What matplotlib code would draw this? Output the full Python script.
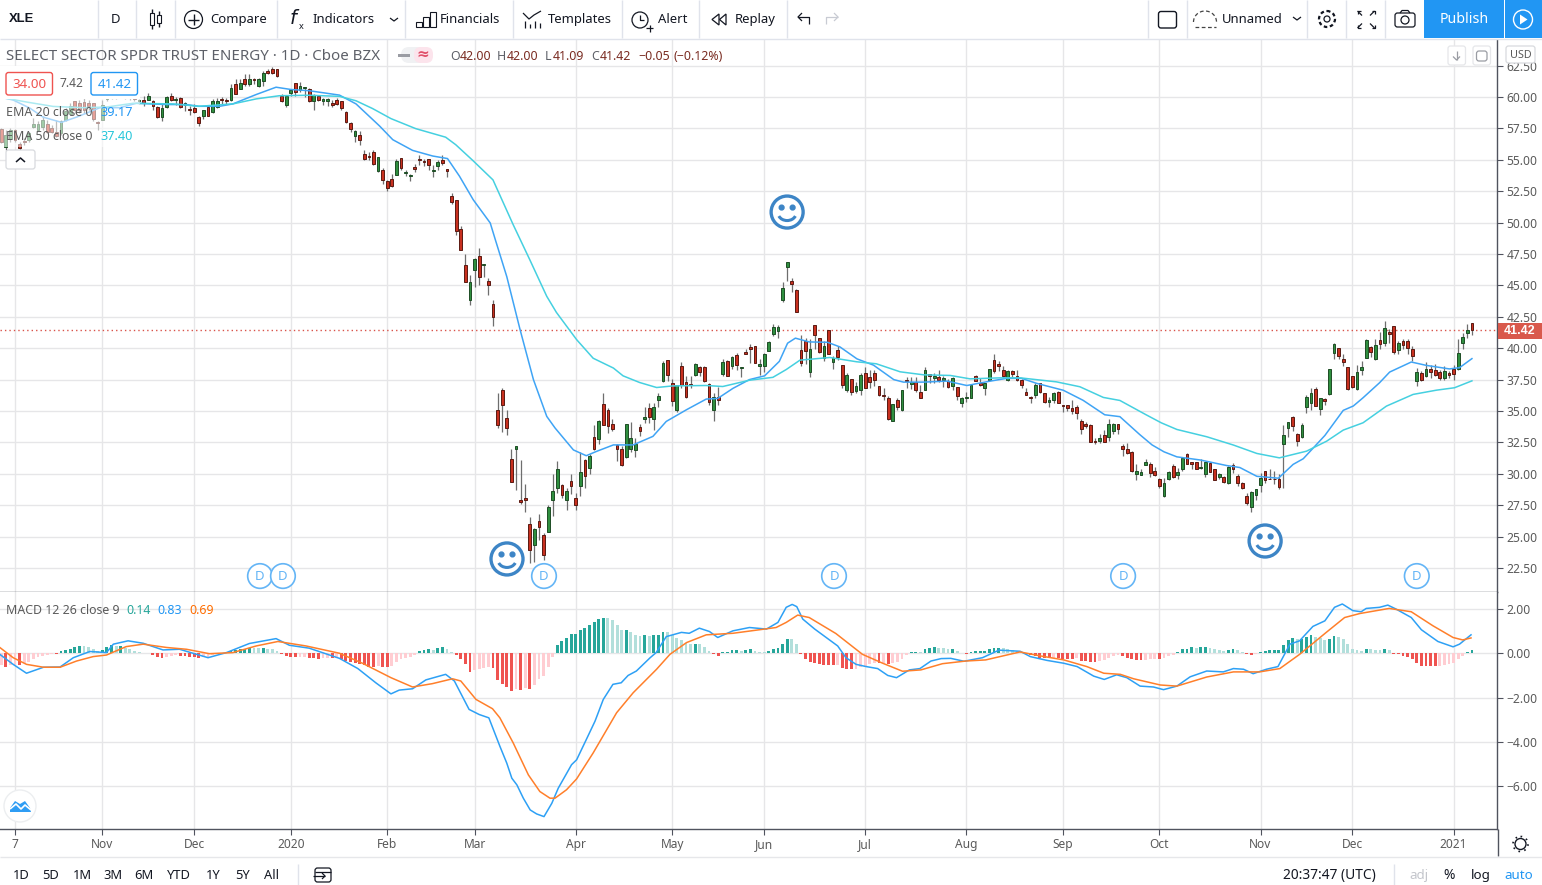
import numpy as np
import matplotlib
matplotlib.use("Agg")
import matplotlib.pyplot as plt
from matplotlib.patches import Rectangle, FancyBboxPatch, Circle, Arc, Polygon

plt.rcParams['font.family'] = ['Noto Sans', 'DejaVu Sans']

# ---------- data ----------
first_bar = -3
opens = [57.45,56.05,56.65,57.35,56.25,56.45,56.55,57.65,57.4,57.6,
 57.85,57.55,57.2,57.15,58.15,58.65,59.65,59.5,59.6,59.5,
 59.55,58.0,58.2,59.85,60.25,60.3,60.05,60.2,60.0,60.3,
 59.65,59.8,59.8,59.7,59.2,58.4,59.2,60.1,59.75,59.9,
 59.35,59.05,59.1,58.4,58.45,59.2,58.8,59.2,59.85,59.72,
 59.75,61,60.65,61.4,61,61.4,60.9,61.25,62.1,62.25,
 62.2,60.1,59.35,60.35,61.1,60.55,60.7,60.65,59.65,60.1,
 59.7,59.65,59.5,59.75,59.65,58.8,57.95,56.87,56.98,55.45,
 55.3,55.6,54.1,54.2,53.3,53.45,53.8,55.15,53.95,53.7,
 54.4,55.05,54.9,55.05,54.1,54.5,55,54.25,52.14,51.8,
 49.5,46.6,43.8,46.2,47.35,46.6,45.35,43.5,35.1,36.7,
 34.45,31.18,31.94,27.91,28.07,26.0,24.3,26.24,25.13,25.34,
 27.9,28.9,29.1,27.9,29.45,28.05,29.0,31.1,30.45,32.9,
 32.75,35.55,35.1,33.95,32.3,32.0,31.3,32.0,31.9,33.75,
 34.4,35.25,34.35,35.85,37.35,39.05,37.25,35.1,38.6,37.3,
 37.15,37.9,38.5,38.5,37.15,35.05,36.1,37.95,38.98,38.55,
 39.45,38.4,39.7,40.1,40.15,38.55,38.6,39.8,41.1,41.4,
 43.8,46.45,45.35,44.65,39.85,40.55,38.1,41.85,40.85,39.25,
 41.45,38.9,39.85,38.7,36.7,37.55,36.6,36.65,38.0,37.7,
 38.0,37.0,36.3,36.05,34.2,35.9,35.05,37.5,37.15,37.3,
 36.55,36.65,37.95,37.6,37.7,37.5,37.35,36.98,36.95,35.65,
 36.05,36.05,37.8,37.25,36.8,37.45,39.1,38.75,38.3,37.5,
 38.2,37.8,37.5,36.55,36.15,36.25,37.25,36.45,35.7,35.9,
 36.55,35.5,35.45,35.2,35.35,34.2,33.95,33.9,32.65,32.65,
 33.1,32.9,33.4,33.95,32.25,32.0,31.75,30.0,29.9,30.7,
 30.8,30.25,29.6,28.2,29.55,30.65,29.9,30.35,31.6,30.9,
 30.9,30.45,29.95,30.85,30.35,29.75,29.75,29.3,30.7,29.85,
 29.3,28.25,27.35,28.3,29.1,30.25,29.6,29.6,29.6,32.4,
 33.65,34.55,33.15,32.9,35.35,35.65,36.75,35.15,35.95,36.35,
 39.65,40.0,39.15,38.5,37.8,36.75,38.25,39.25,40.1,39.15,
 40.65,40.45,41.3,41.8,39.85,40.6,40.6,39.95,37.4,38.05,
 37.8,38.35,38.3,38.1,37.65,38.05,38.35,38.35,40.4,41.2,42.0]
closes = [56.4,57.0,57.35,56.6,55.95,56.4,57.15,57.85,57.85,58.15,
 57.2,57.25,56.9,58.05,58.85,59.25,59.0,58.95,59.0,59.25,
 58.25,57.95,59.4,60.3,60.05,59.9,60.25,60.0,60.3,59.85,
 59.8,59.5,60.1,59.3,58.4,59.1,60.0,59.8,59.85,59.2,
 59.5,58.95,58.8,57.95,58.95,58.5,59.7,59.65,59.75,59.7,
 60.7,60.25,61.1,61.05,61.4,61.35,61.4,61.95,61.9,61.9,
 61.65,59.65,60.05,60.55,60.4,60.9,60.72,59.65,60.15,59.75,
 59.85,59.85,59.35,59.45,59.1,58.0,57.45,57.3,56.55,55.05,
 55.25,54.65,55.2,53.4,52.75,52.9,54.9,54.35,53.98,53.75,
 54.25,54.98,54.8,54.55,54.12,54.85,54.75,54.1,51.62,49.3,
 47.8,45.25,45.3,47.1,45.65,46.7,45.0,42.45,33.9,35.5,
 33.65,29.37,32.21,27.78,27.94,23.9,25.6,25.8,23.5,27.35,
 28.63,30.4,28.3,28.63,29.0,27.55,30.15,29.8,31.4,32.0,
 34.2,33.85,33.8,33.6,32.0,30.7,33.95,32.85,32.35,33.4,
 34.5,34.55,35.35,36.2,38.85,37.9,35.8,37.1,37.05,36.1,
 37.05,38.75,38.1,37.4,35.7,36.1,35.9,38.9,37.75,39.3,
 38.7,38.5,39.5,39.97,38.85,38.75,39.5,40.5,41.7,41.7,
 44.8,46.85,45.1,42.9,38.8,39.75,39.95,41.05,39.7,40.15,
 39.55,39.2,39.3,37.05,37.85,36.5,37.0,37.9,36.85,37.3,
 37.45,36.25,36.2,34.4,35.55,35.3,36.65,37.35,37.3,36.65,
 36.05,38.3,37.8,37.75,37.45,37.6,36.9,37.65,36.2,36.05,
 36.15,37.05,37.4,37.1,37.2,38.35,38.15,38.6,37.8,38.2,
 37.95,37.45,37.05,36.25,36.0,37.05,36.5,35.7,35.85,36.45,
 35.6,35.4,35.25,35.0,34.85,33.6,33.8,32.55,32.55,32.85,
 32.55,33.95,33.95,33.55,31.95,31.65,30.2,30.25,30.15,30.9,
 30.05,29.9,29.05,29.3,30.15,29.75,30.15,31.27,30.8,30.75,
 30.35,30.55,30.9,30.15,29.5,29.95,29.35,30.55,30.35,29.3,
 28.85,27.65,28.55,28.75,29.7,29.5,29.55,29.55,28.95,33.05,
 34.15,33.8,32.65,33.9,36.15,36.45,35.4,36.0,35.8,38.35,
 40.3,39.35,38.9,36.75,36.9,38.1,38.5,40.65,39.7,40.25,
 40.35,41.6,41.15,39.7,40.45,40.25,40.0,39.35,38.1,37.45,
 38.35,38.1,37.9,37.6,38.2,37.9,37.95,39.65,40.9,41.45,41.42]
highs = [57.5,57.4,57.55,57.45,56.45,56.75,57.2,58.3,58.05,58.45,
 58.2,57.8,58.2,58.15,59.1,59.55,59.7,59.75,59.9,59.75,
 59.55,58.05,59.8,60.35,60.35,60.45,60.4,60.3,60.45,60.35,
 59.85,60.05,60.3,59.8,59.25,59.45,60.05,60.3,60.0,60.0,
 59.6,59.25,59.45,58.45,59.0,59.25,59.85,59.9,60.0,59.9,
 61.05,61.4,61.4,61.8,61.8,61.5,61.5,62.05,62.2,62.4,
 62.2,60.25,60.1,60.65,61.15,61.2,60.72,60.7,60.25,60.15,
 59.95,59.95,59.8,59.95,59.7,58.85,58.0,57.35,57.3,55.75,
 55.6,55.8,55.25,54.35,53.4,53.9,55.05,55.15,54.2,53.9,
 54.7,55.35,55.1,55.1,54.55,54.95,55.4,54.25,52.36,51.8,
 49.75,47.5,45.85,47.2,48.0,46.7,45.6,43.85,36.45,36.85,
 35.05,31.97,32.21,31.12,29.21,26.58,25.68,26.8,25.3,27.55,
 30.0,31.05,29.2,28.85,30.0,28.45,31.75,31.2,31.55,33.9,
 34.3,36.45,35.25,34.4,32.4,32.2,33.95,34.15,32.85,33.95,
 35.3,35.6,35.6,36.4,39.0,39.05,37.55,37.1,38.9,37.75,
 37.8,38.8,38.55,38.55,37.25,36.45,36.9,39.15,39.05,39.4,
 39.6,38.5,39.95,40.35,40.15,39.15,39.6,40.6,41.95,41.85,
 45.25,46.85,45.55,44.7,41.05,40.8,40.7,41.85,40.85,40.55,
 41.45,39.4,40.15,38.7,38.0,37.55,37.3,38.05,38.5,38.25,
 38.3,37.0,36.85,36.2,35.55,36.05,36.7,37.7,37.7,37.7,
 37.05,38.5,37.95,38.0,38.3,37.8,37.55,37.7,36.95,36.15,
 36.5,37.1,37.9,37.65,37.25,38.35,39.55,39.0,38.6,38.3,
 38.3,38.25,37.55,36.8,36.2,37.25,37.25,36.45,36.15,36.55,
 36.6,35.5,35.5,35.9,35.45,34.4,34.15,33.95,32.85,33.2,
 33.45,34.4,34.05,33.95,32.35,32.45,31.8,30.75,30.4,31.2,
 30.9,30.55,29.7,29.65,30.25,30.75,30.5,31.35,31.67,30.95,
 30.95,31.2,30.95,30.95,30.35,30.1,29.8,30.65,30.85,29.95,
 29.35,28.45,28.6,28.8,30.05,30.25,30.35,30.2,29.95,33.85,
 34.15,34.6,33.25,34.05,36.25,36.85,36.95,36.05,36.05,38.35,
 40.45,40.0,39.5,38.5,37.8,38.7,39.0,40.7,40.2,40.7,
 41.3,42.15,41.5,41.8,40.55,40.75,40.75,40.2,38.45,38.2,
 38.9,38.65,38.75,38.25,38.6,38.2,38.7,40.7,41.2,41.9,42.0]
lows = [56.3,55.8,56.45,56.45,55.8,56.2,56.45,57.55,57.35,57.4,
 57.15,57.15,56.8,57.0,58.05,58.6,58.7,58.7,58.7,59.0,
 58.05,57.35,58.15,59.65,59.85,59.85,59.9,59.85,59.8,59.65,
 59.45,59.25,59.75,59.0,58.35,58.05,59.1,59.65,59.4,59.1,
 58.85,58.6,58.7,57.7,58.25,58.45,58.7,59.1,59.4,59.45,
 59.7,60.2,60.6,60.85,60.85,61.0,60.8,60.9,61.8,61.8,
 61.6,59.6,59.2,60.05,60.1,60.4,60.0,59.6,58.95,59.65,
 59.35,59.25,59.2,59.35,58.95,57.95,57.25,56.4,56.15,54.95,
 55.0,54.6,54.0,53.1,52.5,52.8,53.75,54.2,53.7,53.35,
 54.0,54.55,54.5,54.15,53.6,54.15,54.6,53.6,51.49,49.0,
 47.8,45.25,43.45,44.9,45.05,45.65,44.2,41.8,33.65,33.3,
 33.05,29.32,28.74,27.62,26.93,22.9,22.95,24.7,23.1,25.34,
 26.65,28.5,28.1,27.1,28.4,27.15,28.2,28.9,30.0,31.9,
 32.4,33.85,33.25,33.4,31.0,30.6,31.25,31.7,31.3,33.0,
 34.05,34.05,33.5,35.3,37.3,37.35,35.4,34.95,36.85,36.05,
 36.85,37.75,37.8,37.3,35.45,34.2,35.5,37.8,37.75,38.35,
 38.3,37.7,39.5,38.85,38.8,37.9,38.1,39.75,41.0,40.85,
 43.7,45.35,44.45,42.85,38.6,38.75,37.7,39.9,39.6,39.0,
 39.5,38.35,39.1,36.8,36.5,36.3,36.4,36.25,36.85,36.85,
 37.0,36.2,35.9,34.3,34.2,35.05,35.0,36.8,36.75,36.5,
 36.05,36.65,37.25,37.2,37.3,36.95,36.85,36.65,35.85,35.3,
 35.7,36.0,37.4,37.0,36.3,37.4,38.05,38.15,37.7,37.4,
 37.7,37.4,36.85,36.25,35.6,36.0,36.4,35.6,35.3,35.65,
 35.6,34.9,35.0,34.75,34.4,33.15,33.65,32.5,32.4,32.45,
 32.5,32.6,33.15,33.2,31.4,31.6,30.15,29.5,29.9,30.7,
 29.75,29.8,28.9,28.15,29.5,29.7,29.55,30.2,30.75,30.4,
 30.35,30.35,29.75,30.15,29.5,29.55,29.3,29.2,30.05,29.0,
 28.8,27.5,26.95,27.95,28.55,29.3,29.55,29.15,28.75,28.85,
 32.95,33.4,32.25,32.85,34.85,35.1,35.4,34.7,35.5,36.3,
 39.15,39.15,38.55,36.65,36.8,36.65,37.85,39.2,39.3,39.1,
 39.9,40.2,40.45,39.5,39.5,39.9,39.5,39.0,37.0,37.4,
 37.7,37.65,37.8,37.45,37.5,37.65,37.45,38.3,39.9,40.85,41.09]

ema20_idx = [-3,-0.4,3.3,6.1,10.1,13.4,18.5,22.8,26.4,32.9,37.3,40,44.5,47.4,52.5,56.8,60,64,70.6,74.2,79.3,82.2,86.5,90.9,94.1,96.7,99.7,103.4,104.4,107,109.9,112.8,115.7,117.5,121.5,124.3,126.5,130.2,134.5,138.8,141.7,146.1,150.4,152.9,156.2,159.8,163.1,166.3,168.1,169.8,172.8,176.8,179.5,183.2,186.8,191.2,193.3,197.7,202.8,207.1,212.2,215.8,219,222.3,228.1,232.4,237.1,240.4,244.7,247.4,250,252.8,257.9,263.6,266.5,270.2,274.9,278.1,280.3,285,289,291.2,293.3,296.9,299.1,303.8,307.1,312.1,314.3,317]
ema20_val = [59.97,59.76,59.1,58.4,57.98,58.4,59.15,59.15,59.5,59.4,59.4,59.26,59.26,59.45,60.2,60.78,60.6,60.5,60.15,59.45,57.7,56.6,55.75,55.3,55.1,53.7,51.82,49.97,48.77,45.7,41.47,37.5,34.57,33.65,31.9,31.44,31.78,32.3,32.3,32.98,34.17,35.1,35.95,36.0,36.8,37.5,37.8,38.95,40.4,40.8,40.5,40.47,40.1,39.15,38.65,37.5,37.3,37.3,37.38,37.03,37.38,37.6,37.6,37.2,36.65,35.85,34.7,34.55,33.13,32.3,31.75,31.35,31.1,30.66,30.5,29.8,29.65,30.75,31.2,33.05,35.05,35.4,36.05,37.25,38.1,38.9,38.63,38.35,38.45,39.17]
ema50_idx = [-3,2.5,8.3,14.8,19.9,25.7,34.4,40,47.4,52.5,57.5,64,70.6,74.2,77.8,81.8,87.2,93.7,95.9,99.6,104,108.4,112,115.7,117.8,122.2,125.8,130.2,132.3,135.9,139.6,143.2,150.4,154,159.8,164.9,167.8,170.8,177.3,183.1,187.4,192.6,197.7,203.5,207.8,214.4,218.7,226.6,231.7,236.8,240.4,246,249.4,252.8,259.3,265.1,270.2,275.1,278.1,281,285.4,289,293.3,298.4,304.2,309.3,313.2,317]
ema50_val = [59.97,59.6,59.25,59.15,59.2,59.5,59.45,59.26,59.45,59.85,60.1,60.14,60.05,59.7,59.08,58.28,57.48,56.8,56.2,54.95,53.4,49.83,47.05,44.13,42.85,40.68,39.2,38.42,37.8,37.27,36.87,37.0,37.03,36.95,37.45,37.68,38.3,39.05,39.26,38.92,38.76,38.12,37.88,37.83,37.56,37.64,37.64,37.32,36.93,36.08,35.84,34.72,34.06,33.53,32.95,32.29,31.62,31.27,31.54,31.8,32.6,33.48,34.06,35.39,36.32,36.66,36.85,37.4]

macd_idx = [-3.3,-0.4,2.5,6.2,9.8,12.7,16.3,19.9,21.4,24.6,27.9,32.2,35.8,42,46,51,56.8,59.7,64,70.6,74.6,78.5,81.8,83.6,86.5,89.4,93.7,95.6,98.8,101,103.1,105.5,107,108.1,109.2,110.6,112.1,113.5,115.1,116.8,118.2,121.1,122.2,124.3,126.2,128,130.1,131.9,133.4,135.2,138.2,139.5,141.7,145,146.7,148.9,151.1,152.9,156.2,159.8,163.5,166,167.8,169.1,170.1,171.4,174,176.5,179,180.8,183,185.2,187.7,189.9,191.8,194.6,196.9,199.3,201.5,203.6,206.5,210.5,214.1,218.7,220.9,224.5,228.2,231.1,234.7,237,239.7,241.9,244.8,247.7,249.9,252.8,255.7,259.3,262.9,265.1,267.3,269.4,272.3,274.8,277.4,279.5,282.4,285,287.1,288.8,291.1,292.9,294,296.9,298.7,300.5,303.8,306,309.6,312.9,314.3,316.8]
macd_val = [-0.05,-0.5,-0.9,-0.63,-0.62,-0.2,0.08,0.03,0.41,0.56,0.45,0.15,0.18,-0.2,0.03,0.44,0.66,0.36,0.23,-0.23,-0.69,-1.33,-1.83,-1.66,-1.6,-1.2,-0.95,-1.25,-2.53,-2.76,-2.91,-4.19,-4.95,-5.63,-5.93,-6.53,-7.06,-7.24,-7.36,-6.76,-6.08,-5.02,-4.8,-3.89,-3.06,-2.08,-1.4,-1.33,-1.0,-0.8,-0.2,0.03,0.75,0.94,0.9,1.13,0.98,0.71,1.01,1.16,1.09,1.39,2.07,2.2,2.1,1.54,1.09,0.71,0.33,-0.2,-0.5,-0.6,-0.69,-1.0,-1.1,-0.75,-0.69,-0.35,-0.24,-0.23,-0.36,-0.2,0.14,0.09,-0.15,-0.32,-0.45,-0.6,-1.03,-1.18,-0.97,-1.1,-1.48,-1.52,-1.64,-1.48,-1.06,-0.8,-0.84,-0.69,-0.72,-0.92,-0.72,-0.6,0.41,0.56,1.21,1.46,2.07,2.22,1.92,1.87,2.02,2.07,2.17,1.99,1.61,1.06,0.53,0.29,0.41,0.83]
signal_idx = [-3.3,-0.4,2.5,6.2,9.8,13.4,17,19.9,24.2,27.9,33,37.3,42.3,47.4,52.5,57.2,63.3,70.6,75.6,81.8,86.5,90.8,95.2,97,100.3,103.9,105.5,108.4,111.7,114.2,116.4,117.5,120,122.2,125.8,130.9,134.5,139.6,142.5,146.1,150.4,156.2,162,165.6,167.8,170.3,172.8,178.6,184.4,188.8,193.1,197.1,201.8,206.9,211.2,218.7,223.1,228.2,233.2,236.9,240.5,243.4,249.2,252.8,259.3,265.1,270.8,275.2,279.5,285.3,289.3,292.6,299,303.8,308.5,312.9,315,316.8]
signal_val = [0.26,-0.2,-0.5,-0.63,-0.63,-0.35,-0.15,-0.08,0.3,0.41,0.26,0.18,-0.02,0.03,0.33,0.53,0.33,0.0,-0.45,-1.1,-1.52,-1.37,-1.15,-1.25,-2.08,-2.5,-2.91,-4.04,-5.48,-6.23,-6.53,-6.53,-6.15,-5.66,-4.49,-2.68,-1.78,-0.72,-0.05,0.48,0.83,0.9,1.06,1.16,1.39,1.72,1.61,0.89,-0.05,-0.45,-0.81,-0.75,-0.47,-0.35,-0.3,0.06,-0.12,-0.3,-0.6,-0.9,-0.95,-1.15,-1.43,-1.48,-1.07,-0.84,-0.84,-0.69,-0.05,0.94,1.61,1.79,2.02,1.87,1.24,0.71,0.6,0.69]
hist_val = [-0.55,-0.6,-0.55,-0.53,-0.55,-0.45,-0.4,-0.28,-0.18,-0.12,-0.08,-0.03,-0.04,0.08,0.13,0.2,0.27,0.33,0.32,0.3,
 0.2,0.12,0.14,0.28,0.36,0.33,0.34,0.24,0.18,0.12,0.07,0.03,0.02,-0.08,-0.15,-0.22,-0.15,-0.12,-0.08,-0.12,
 -0.14,-0.16,-0.18,-0.22,-0.18,-0.15,-0.07,-0.02,0.02,0.05,0.1,0.13,0.17,0.2,0.24,0.23,0.22,0.24,0.21,0.17,
 0.12,-0.04,-0.12,-0.18,-0.19,-0.18,-0.17,-0.22,-0.23,-0.24,-0.23,-0.22,-0.23,-0.22,-0.24,-0.35,-0.38,-0.42,-0.5,-0.55,
 -0.6,-0.61,-0.58,-0.6,-0.61,-0.58,-0.4,-0.27,-0.23,-0.15,-0.06,0.09,0.15,0.17,0.16,0.23,0.27,0.2,0.05,-0.06,
 -0.27,-0.5,-0.85,-0.77,-0.72,-0.65,-0.6,-0.68,-1.2,-1.4,-1.5,-1.7,-1.6,-1.66,-1.55,-1.63,-1.45,-1.18,-1.03,-0.6,
 -0.15,0.36,0.54,0.7,0.86,0.87,1.04,1.13,1.27,1.4,1.54,1.59,1.58,1.49,1.27,1.04,1.05,0.95,0.81,0.77,
 0.81,0.77,0.81,0.82,0.95,0.94,0.81,0.68,0.59,0.45,0.41,0.42,0.41,0.27,0.09,-0.03,-0.13,0.05,0.06,0.14,
 0.15,0.09,0.14,0.18,0.09,0.05,0.04,0.09,0.18,0.23,0.41,0.63,0.62,0.41,-0.03,-0.27,-0.41,-0.42,-0.5,-0.51,
 -0.54,-0.55,-0.54,-0.68,-0.69,-0.72,-0.71,-0.63,-0.57,-0.5,-0.42,-0.46,-0.45,-0.5,-0.45,-0.4,-0.27,-0.06,0.05,0.06,
 0.05,0.18,0.23,0.27,0.23,0.22,0.18,0.19,0.09,0.02,-0.03,0.05,0.09,0.095,0.1,0.18,0.23,0.24,0.23,0.18,
 0.14,0.1,0.05,-0.05,-0.1,-0.13,-0.2,-0.22,-0.23,-0.22,-0.23,-0.24,-0.25,-0.26,-0.22,-0.35,-0.37,-0.4,-0.41,-0.36,
 -0.3,-0.22,-0.12,-0.06,-0.14,-0.2,-0.28,-0.3,-0.31,-0.29,-0.27,-0.24,-0.27,-0.22,-0.12,-0.06,0.06,0.17,0.2,0.26,
 0.25,0.26,0.27,0.23,0.17,0.13,0.1,0.14,0.18,0.14,0.05,-0.05,-0.06,-0.03,0.05,0.1,0.13,0.14,0.15,0.35,
 0.6,0.68,0.62,0.66,0.72,0.82,0.74,0.68,0.6,0.65,0.76,0.72,0.64,0.4,0.2,0.14,0.1,0.18,0.17,0.14,
 0.13,0.18,0.14,-0.02,-0.05,-0.12,-0.17,-0.28,-0.43,-0.57,-0.58,-0.585,-0.59,-0.57,-0.53,-0.48,-0.42,-0.25,-0.13,0.06,0.14]

month_idx = [0,19,39,60,81,100,122,143,163,185,207,228,249,271,291,313]
month_lab = ['7','Nov','Dec','2020','Feb','Mar','Apr','May','Jun','Jul','Aug','Sep','Oct','Nov','Dec','2021']
price_ticks = [22.5,25,27.5,30,32.5,35,37.5,40,42.5,45,47.5,50,52.5,55,57.5,60,62.5]
macd_ticks = [-6,-4,-2,0,2]
last_close = 41.42
smiley_idx = [107.05,168,272]
smiley_price = [23.22,50.84,24.65]
div_idx = [53.3,58.3,115.1,178.2,241.1,305]
div_price = [21.86,21.86,21.86,21.86,21.86,21.86]

# ---------- layout (pixels of 1542 x 885) ----------
W, H = 1542, 885
BAR_PX = 4.596
fig = plt.figure(figsize=(W/100, H/100), dpi=100, facecolor='white')
AX_R = 1497
def px_axes(l, t, r, b, **k):
    return fig.add_axes([l/W, 1-b/H, (r-l)/W, (b-t)/H], **k)
ax = px_axes(0, 39, AX_R, 592)
am = px_axes(0, 592, AX_R, 829)
ui = fig.add_axes([0, 0, 1, 1], zorder=20)
ui.set_xlim(0, W); ui.set_ylim(H, 0); ui.axis('off'); ui.patch.set_alpha(0)

xl = (-15/BAR_PX, (AX_R-15)/BAR_PX)
GRID = '#e6e6e8'; AXC = '#50535e'; TXT = '#5a5a5a'
for a in (ax, am):
    a.set_xlim(*xl)
    a.set_facecolor('white')
    for s in ('left', 'top'):
        a.spines[s].set_visible(False)
    for s in ('right', 'bottom'):
        a.spines[s].set_color(AXC); a.spines[s].set_linewidth(1.0)
    a.yaxis.tick_right()
    a.set_axisbelow(True)
    a.grid(True, color=GRID, lw=1.0)
    a.set_xticks(month_idx)
    a.tick_params(axis='y', colors=AXC, labelcolor=TXT, length=4, width=0.8, pad=3, labelsize=8.7)
ax.set_ylim(60-(592-97)/12.56, 60+(97-39)/12.56)
am.set_ylim(-(829-654)/22.1, (654-593)/22.1)
ax.set_yticks(price_ticks); ax.set_yticklabels([f'{v:.2f}' for v in price_ticks])
am.set_yticks(macd_ticks); am.set_yticklabels([f'\u2212{abs(v):.2f}' if v < 0 else f'{v:.2f}' for v in macd_ticks])
ax.tick_params(axis='x', length=0, labelbottom=False)
am.set_xticklabels(month_lab)
am.tick_params(axis='x', colors=AXC, labelcolor=TXT, length=4, width=0.8, pad=2.5, labelsize=8.6)

# ---------- candles ----------
idx = first_bar + np.arange(len(closes))
O, Hi, Lo, C = map(np.array, (opens, highs, lows, closes))
up = C >= O
ax.vlines(idx, Lo, Hi, color='#6e6e6e', lw=0.9, zorder=3)
bot = np.minimum(O, C); ht = np.maximum(np.abs(C-O), 0.06)
ax.bar(idx[up], ht[up], bottom=bot[up], width=0.6, color='#2f8f3f', edgecolor='#1e4d25', lw=0.7, zorder=4)
ax.bar(idx[~up], ht[~up], bottom=bot[~up], width=0.6, color='#c8301f', edgecolor='#5a1a12', lw=0.7, zorder=4)
ax.plot(ema20_idx, ema20_val, color='#3fa4f5', lw=1.1, zorder=5)
ax.plot(ema50_idx, ema50_val, color='#45d0e0', lw=1.1, zorder=5)
ax.axhline(last_close, color='#d9534a', lw=1.0, ls=(0, (1, 2.2)), zorder=2)

# markers
for xv, yv in zip(smiley_idx, smiley_price):
    R = 16
    cx, cy = 15+BAR_PX*xv, 97+(60-yv)*12.56
    ui.add_patch(Circle((cx, cy), R, fc='white', ec='#3d85c6', lw=2.4))
    ui.add_patch(Circle((cx-5.5, cy-4.5), 2.4, color='#3d85c6'))
    ui.add_patch(Circle((cx+5.5, cy-4.5), 2.4, color='#3d85c6'))
    ui.add_patch(Arc((cx, cy+1), 18, 15, theta1=20, theta2=160, ec='#3d85c6', lw=2.2))
for xv, yv in zip(div_idx, div_price):
    cx, cy = 15+BAR_PX*xv, 97+(60-yv)*12.56
    ui.add_patch(Circle((cx, cy), 12.3, fc='white', ec='#64b5f6', lw=1.2))
    ui.text(cx, cy+0.5, 'D', color='#64b5f6', fontsize=9.5, ha='center', va='center')

# ---------- MACD ----------
hv = np.array(hist_val); hi = first_bar + np.arange(len(hv))
prev = np.r_[hv[0], hv[:-1]]
hcol = ['#26a69a' if (v >= 0 and v >= p) else '#b2dfdb' if v >= 0 else '#ef5350' if v < p else '#ffcdd2'
        for v, p in zip(hv, prev)]
am.bar(hi, hv, width=0.62, color=hcol, zorder=3)
am.plot(macd_idx, macd_val, color='#2da0f5', lw=1.1, zorder=4)
am.plot(signal_idx, signal_val, color='#ff7f2a', lw=1.1, zorder=5)

# ---------- chrome ----------
def T(x, y, s, c='#131722', fs=9.4, ha='left', **k):
    return ui.text(x, y+1.5, s, color=c, fontsize=fs, ha=ha, va='center', **k)
def L(xs, ys, c='#131722', lw=1.0, **k):
    ui.plot(xs, ys, color=c, lw=lw, solid_capstyle='butt', **k)
def box(x, y, w, h, ec='#131722', fc='none', lw=1.0, r=2.5, **k):
    ui.add_patch(FancyBboxPatch((x+r, y+r), w-2*r, h-2*r, boxstyle=f'round,pad={r}', ec=ec, fc=fc, lw=lw, **k))

# top toolbar
ui.add_patch(Rectangle((0, 0), W, 38.5, fc='white', ec='none'))
L([0, W], [38.5, 38.5], '#e0e3eb', 1.0)
for x in [97.5, 135.5, 174.5, 277, 404.5, 512.5, 621.5, 698.5, 786.5, 1148, 1187, 1307, 1346, 1385]:
    L([x, x], [0, 38], '#e0e3eb', 1.0)
T(9, 18, 'XLE', fs=9.4, fontweight='bold', family='Liberation Sans')
T(116, 18, 'D', ha='center')
# candle icon
for x, t, b, wt, wb in [(152, 13, 25, 9, 29), (159, 15, 23, 11, 27)]:
    ui.add_patch(Rectangle((x-2, t), 4, b-t, fc='white', ec='#131722', lw=0.8))
    L([x, x], [wt, t]); L([x, x], [b, wb])
ui.add_patch(Circle((193.5, 19.5), 9, fc='none', ec='#131722', lw=0.9))
L([188, 199], [19.5, 19.5]); L([193.5, 193.5], [14, 25])
T(210, 18, 'Compare')
T(295, 18, '$f$', fs=14, ha='center'); T(301, 25, 'x', fs=6.5, ha='center')
T(312, 18, 'Indicators')
L([390, 394, 398], [18, 21, 18], lw=0.9)
for x, t in [(416, 22), (423, 17), (430, 12)]:
    ui.add_patch(Rectangle((x, t), 5.5, 27-t, fc='none', ec='#131722', lw=0.8))
T(440, 18, 'Financials')
L([523, 529, 534, 541], [13, 19, 15, 11], lw=0.9)
for x, t in [(525, 21), (530, 24), (535, 21), (540, 23)]:
    L([x, x], [t, 28], lw=0.9)
T(548, 18, 'Templates')
ui.add_patch(Circle((640, 20), 8, fc='none', ec='#131722', lw=0.9))
L([640, 640, 644], [15, 20, 20], lw=0.9); L([646, 653], [28, 28], lw=0.9); L([649.5, 649.5], [24.5, 31.5], lw=0.9)
T(658, 18, 'Alert')
ui.add_patch(Polygon([[719, 14], [712, 19.5], [719, 25]], fc='none', ec='#131722', lw=0.9))
ui.add_patch(Polygon([[726, 14], [719.5, 19.5], [726, 25]], fc='none', ec='#131722', lw=0.9))
T(735, 18, 'Replay')
L([798, 809, 809], [17, 17, 24], lw=0.9); L([802, 798, 802], [13, 17, 21], lw=0.9)
L([838, 826, 826], [17, 17, 24], '#c8cbd3', 0.9); L([834, 838, 834], [13, 17, 21], '#c8cbd3', 0.9)
box(1158.5, 11.5, 18, 16.5, lw=1.0)
ui.add_patch(Arc((1205, 22), 23, 22, theta1=180, theta2=360, ec='#444', lw=0.9, ls=(0, (3, 2))))
L([1195, 1216], [27, 27], '#444', 0.9, ls=(0, (3, 2)))
T(1222, 18, 'Unnamed')
L([1293, 1297, 1301], [17, 20, 17], lw=0.9)
ui.add_patch(Circle((1327, 19), 3, fc='none', ec='#131722', lw=0.9))
ui.add_patch(Circle((1327, 19), 8, fc='none', ec='#131722', lw=1.6, ls=(0, (1.6, 1.2))))
for sx, sy in [(-1, -1), (1, -1), (-1, 1), (1, 1)]:
    cx, cy = 1366+sx*4, 19.5+sy*4
    L([cx, cx+sx*4.5], [cy, cy+sy*4.5], lw=0.9)
    L([cx+sx*1.5, cx+sx*4.5, cx+sx*4.5], [cy+sy*4.5, cy+sy*4.5, cy+sy*1.5], lw=0.9)
box(1395, 13, 20, 14, lw=0.9)
ui.add_patch(Circle((1405, 20), 4, fc='none', ec='#131722', lw=0.9))
L([1400, 1402, 1408, 1410], [13, 10.5, 10.5, 13], lw=0.9)
ui.add_patch(Rectangle((1424, 0), 80, 38, fc='#2196f3', ec='none'))
ui.add_patch(Rectangle((1505, 0), 37, 38, fc='#2196f3', ec='none'))
T(1464, 18, 'Publish', c='white', fs=10.2, ha='center')
ui.add_patch(Circle((1523, 19.5), 9.5, fc='none', ec='white', lw=1.0))
ui.add_patch(Polygon([[1520, 14.5], [1527.5, 19.5], [1520, 24.5]], fc='white', ec='none'))

# header legend
T(6, 54.5, 'SELECT SECTOR SPDR TRUST ENERGY \u00b7 1D \u00b7 Cboe BZX', c='#5d6068', fs=10.86)
ui.add_patch(FancyBboxPatch((401, 47), 26, 16, boxstyle='round,pad=0,rounding_size=8', fc='#f0f1f3', ec='none'))
ui.add_patch(FancyBboxPatch((414, 47), 19, 16, boxstyle='round,pad=0,rounding_size=7', fc='#fce4ec', ec='none'))
ui.add_patch(Rectangle((398, 53.5), 12, 3, fc='#9a9ca3', ec='none'))
T(423, 54, '\u2248', c='#e0506a', fs=11, ha='center', fontweight='bold')
RED = '#7a2c22'
for x, lab, v, off in [(450, 'O', '42.00', 9.5), (496.5, 'H', '42.00', 10), (545, 'L', '41.09', 8), (591, 'C', '41.42', 9)]:
    T(x, 55.5, lab, c='#5d6068', fs=8.9)
    T(x+off, 55.5, v, c=RED, fs=8.9)
T(638, 55.5, '\u22120.05', c=RED, fs=8.9)
T(674, 55.5, '(\u22120.12%)', c=RED, fs=8.9)

# USD / small buttons
box(1448, 46, 17.5, 19, ec='#e6e7ea', fc='white', lw=0.9)
box(1473, 46, 17.5, 19, ec='#e6e7ea', fc='white', lw=0.9)
L([1456.5, 1456.5], [51, 60], '#9a9ca3', 0.9); L([1453, 1456.5, 1460], [56.5, 60, 56.5], '#9a9ca3', 0.9)
box(1476.5, 51, 10.5, 10, ec='#9a9ca3', lw=0.9)
box(1506, 46, 29, 17, ec='#d8dade', fc='white', lw=0.9)
T(1520.5, 53.5, 'USD', c=TXT, fs=7.8, ha='center')

# indicator legends over the chart
ui.add_patch(Rectangle((0, 66), 140, 33, fc='white', ec='none'))
ui.add_patch(Rectangle((0, 99), 140, 48, fc='white', ec='none', alpha=0.55))
box(6, 72.5, 46.5, 22.5, ec='#ef5350', fc='white', lw=1.0)
T(29.5, 83, '34.00', c='#ef5350', fs=9.6, ha='center')
T(71, 82, '7.42', c=TXT, fs=8.6, ha='center')
box(91, 72.5, 46.5, 22.5, ec='#2196f3', fc='white', lw=1.0)
T(114.5, 83, '41.42', c='#2196f3', fs=9.6, ha='center')
T(6, 110.5, 'EMA 20 close 0', c=TXT, fs=8.95)
T(100, 110.5, '39.17', c='#2196f3', fs=9.2)
T(6, 134.5, 'EMA 50 close 0', c=TXT, fs=8.95)
T(100, 134.5, '37.40', c='#26c6da', fs=9.2)
box(6, 150, 29, 19, ec='#d8dade', fc='white', lw=0.9)
L([16, 20.5, 25], [162, 158, 162], '#131722', 1.1)

# price tag
ui.add_patch(Rectangle((AX_R+0.5, 323), W-AX_R, 16, fc='#d9594c', ec='none'))
T(1519.5, 330, '41.42', c='white', fs=9, ha='center', fontweight='bold', family='Liberation Sans')

# MACD legend
T(6, 608.5, 'MACD 12 26 close 9', c=TXT, fs=8.9)
T(126, 608.5, '0.14', c='#26a69a', fs=8.9)
T(157, 608.5, '0.83', c='#2196f3', fs=8.9)
T(189, 608.5, '0.69', c='#ff6d00', fs=8.9)

# TV logo
ui.add_patch(Circle((20, 806), 16, fc='white', ec='#eceef0', lw=1.0))
ui.add_patch(Polygon([[10, 812], [10, 808], [15, 801], [20, 804], [25, 801], [30, 808], [31, 812]], fc='#2f9df4', ec='none'))
L([10, 16, 21, 25, 31], [809, 804, 809, 805, 810], 'white', 1.2)

# bottom area
L([AX_R+0.5, AX_R+0.5], [829, 856], AXC, 1.0)
L([0, W], [856.5, 856.5], '#e6e7ea', 1.0)
for x, s in zip([21, 51, 82, 113, 144, 179, 213, 243, 272], ['1D', '5D', '1M', '3M', '6M', 'YTD', '1Y', '5Y', 'All']):
    T(x, 874, s, ha='center', fs=9.3)
L([297.5, 297.5], [864, 885], '#e0e3eb', 1.0)
box(315, 868, 16, 14, lw=0.9)
L([315, 331], [872, 872], lw=0.9)
L([313, 325], [876, 876], lw=0.9); L([322, 325, 322], [873, 876, 879], lw=0.9)
T(1376, 874, '20:37:47 (UTC)', ha='right', fs=9.9)
L([1393.5, 1393.5], [864, 885], '#e0e3eb', 1.0)
T(1418.5, 874, 'adj', c='#c4c6cc', fs=9.6, ha='center')
T(1449.5, 874, '%', fs=10, ha='center')
T(1481, 874, 'log', fs=9.6, ha='center')
T(1518.5, 874, 'auto', c='#2196f3', fs=9.6, ha='center')
ui.add_patch(Circle((1520.5, 844), 5.5, fc='none', ec='#131722', lw=1.0))
ui.add_patch(Circle((1520.5, 844), 7.5, fc='none', ec='#131722', lw=1.2, ls=(0, (1, 2.6))))

fig.savefig('out.png', dpi=100, facecolor='white')
